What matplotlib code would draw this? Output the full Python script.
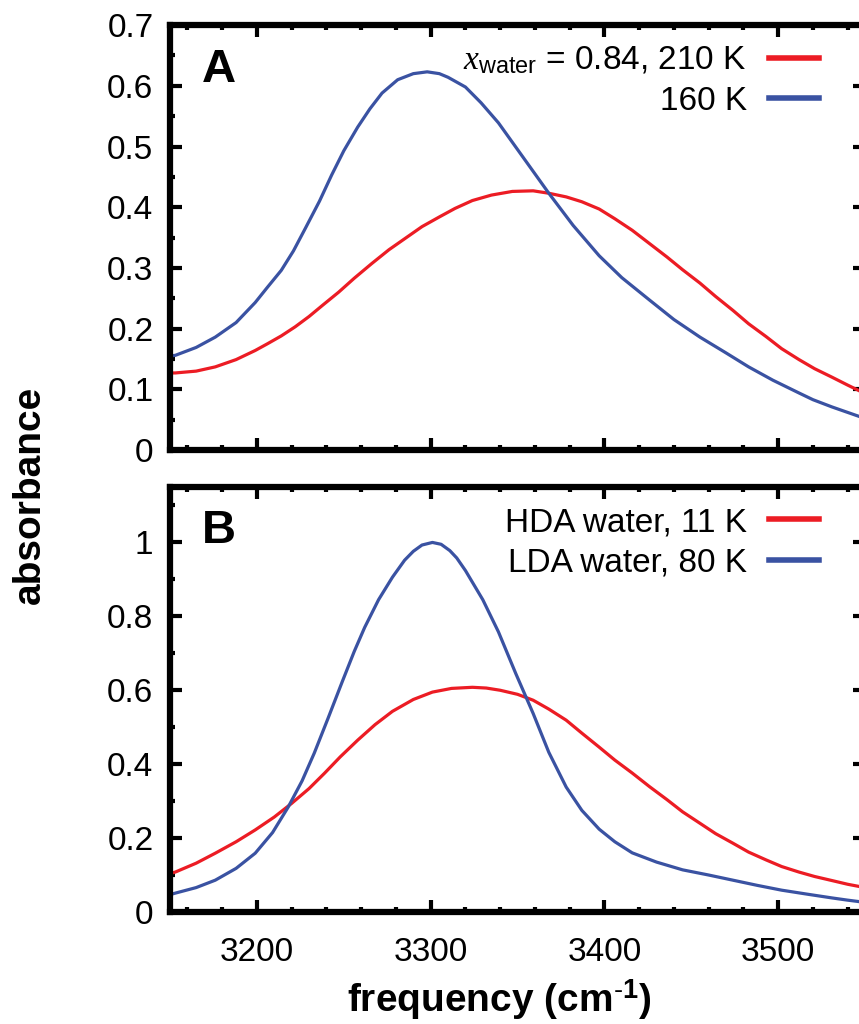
import matplotlib
matplotlib.use("Agg")
import matplotlib.pyplot as plt
from matplotlib.ticker import MultipleLocator, FuncFormatter

plt.rcParams['font.family'] = ['Liberation Sans', 'DejaVu Sans']
plt.rcParams['mathtext.fontset'] = 'custom'
plt.rcParams['mathtext.rm'] = 'Liberation Sans'
plt.rcParams['mathtext.bf'] = 'Liberation Sans:bold'
plt.rcParams['mathtext.it'] = 'Liberation Serif:italic'

# panel A, x_water = 0.84
freq_a_hot = [3150, 3153, 3165, 3176, 3188, 3199, 3206, 3214, 3222, 3230, 3238, 3247, 3256, 3266,
              3276, 3286, 3295, 3305, 3314, 3324, 3335, 3347, 3359, 3368, 3378, 3387, 3397, 3406,
              3416, 3426, 3436, 3445, 3455, 3464, 3474, 3483, 3493, 3502, 3512, 3521, 3531, 3540, 3550]
abs_a_hot = [0.127, 0.127, 0.130, 0.137, 0.149, 0.164, 0.175, 0.188, 0.203, 0.220, 0.239, 0.260, 0.283, 0.307,
             0.330, 0.350, 0.368, 0.384, 0.398, 0.411, 0.420, 0.426, 0.427, 0.423, 0.417, 0.409, 0.397, 0.381,
             0.362, 0.340, 0.318, 0.297, 0.275, 0.253, 0.230, 0.208, 0.187, 0.167, 0.149, 0.134, 0.120, 0.107, 0.093]
freq_a_cold = [3150, 3153, 3165, 3176, 3188, 3199, 3206, 3214, 3221, 3228, 3236, 3243, 3250, 3258, 3265,
               3272, 3281, 3290, 3298, 3305, 3310, 3320, 3329, 3339, 3350, 3360, 3368, 3382, 3397,
               3410, 3426, 3440, 3455, 3470, 3483, 3497, 3512, 3520, 3531, 3540, 3550]
abs_a_cold = [0.155, 0.156, 0.169, 0.186, 0.210, 0.243, 0.268, 0.296, 0.328, 0.366, 0.410, 0.453, 0.493, 0.532, 0.562,
              0.588, 0.610, 0.620, 0.623, 0.620, 0.614, 0.598, 0.572, 0.539, 0.495, 0.455, 0.423, 0.370, 0.320,
              0.284, 0.247, 0.215, 0.186, 0.160, 0.137, 0.115, 0.094, 0.083, 0.071, 0.062, 0.052]

# panel B, amorphous ices
freq_b_hda = [3150, 3153, 3165, 3176, 3188, 3199, 3210, 3220, 3230, 3239, 3248, 3258, 3268, 3278, 3290,
              3301, 3312, 3324, 3332, 3340, 3350, 3359, 3368, 3378, 3387, 3397, 3406, 3416, 3426,
              3436, 3445, 3455, 3464, 3474, 3483, 3493, 3502, 3512, 3521, 3531, 3540, 3550]
abs_b_hda = [0.104, 0.108, 0.132, 0.159, 0.190, 0.222, 0.257, 0.294, 0.334, 0.376, 0.420, 0.465, 0.507, 0.543, 0.575,
             0.595, 0.605, 0.608, 0.606, 0.600, 0.589, 0.573, 0.549, 0.519, 0.484, 0.446, 0.411, 0.376, 0.339,
             0.304, 0.271, 0.240, 0.212, 0.186, 0.162, 0.141, 0.123, 0.108, 0.096, 0.085, 0.075, 0.066]
freq_b_lda = [3150, 3153, 3165, 3176, 3188, 3199, 3209, 3218, 3226, 3233, 3241, 3249, 3256, 3262, 3270,
              3278, 3285, 3290, 3295, 3301, 3306, 3311, 3315, 3320, 3330, 3339, 3349, 3359, 3368, 3378,
              3387, 3397, 3406, 3416, 3430, 3445, 3460, 3474, 3488, 3502, 3517, 3531, 3540, 3550]
abs_b_lda = [0.047, 0.051, 0.066, 0.086, 0.118, 0.159, 0.215, 0.284, 0.355, 0.430, 0.525, 0.622, 0.705, 0.770, 0.845,
             0.906, 0.952, 0.976, 0.993, 1.000, 0.995, 0.978, 0.958, 0.924, 0.845, 0.758, 0.645, 0.537, 0.432, 0.338,
             0.275, 0.224, 0.190, 0.160, 0.135, 0.114, 0.100, 0.086, 0.072, 0.059, 0.048, 0.038, 0.032, 0.026]

labels_a = ['$x_{\\mathrm{water}}$ = 0.84, 210 K', '160 K']
labels_b = ['HDA water, 11 K', 'LDA water, 80 K']

red = '#ec1c24'
blue = '#3a52a2'

fig = plt.figure(figsize=(8.59, 10.24), dpi=100)
ax_a = fig.add_axes([0.198, 0.5605, 0.809, 0.415])
ax_b = fig.add_axes([0.198, 0.1094, 0.809, 0.415])

ax_a.plot(freq_a_hot, abs_a_hot, color=red, lw=2.3, label=labels_a[0])
ax_a.plot(freq_a_cold, abs_a_cold, color=blue, lw=2.3, label=labels_a[1])
ax_b.plot(freq_b_hda, abs_b_hda, color=red, lw=2.3, label=labels_b[0])
ax_b.plot(freq_b_lda, abs_b_lda, color=blue, lw=2.3, label=labels_b[1])

fmt = FuncFormatter(lambda v, p: '%g' % round(v, 2))
for ax in (ax_a, ax_b):
    ax.set_xlim(3150, 3550)
    ax.xaxis.set_major_locator(MultipleLocator(100))
    ax.xaxis.set_minor_locator(MultipleLocator(20))
    ax.yaxis.set_major_formatter(fmt)
    ax.tick_params(which='both', direction='in', top=True, right=True, width=3, labelsize=24)
    ax.tick_params(which='major', length=8.5)
    ax.tick_params(which='minor', length=3.5)
    ax.tick_params(axis='x', pad=18)
    ax.tick_params(axis='y', pad=12)
    for s in ax.spines.values():
        s.set_linewidth(4.5)
    leg = ax.legend(loc='upper right', frameon=False, markerfirst=False, fontsize=24,
                    handlelength=1.5, handletextpad=0.65, labelspacing=0.28,
                    borderaxespad=0.2, bbox_to_anchor=(0.962, 1.0))
    for ln in leg.get_lines():
        ln.set_linewidth(4)

ax_a.set_ylim(0, 0.7)
ax_a.yaxis.set_major_locator(MultipleLocator(0.1))
ax_a.yaxis.set_minor_locator(MultipleLocator(0.05))
ax_a.tick_params(axis='x', labelbottom=False)

ax_b.set_ylim(0, 1.15)
ax_b.yaxis.set_major_locator(MultipleLocator(0.2))
ax_b.yaxis.set_minor_locator(MultipleLocator(0.1))

ax_a.text(0.046, 0.866, 'A', transform=ax_a.transAxes, fontsize=34, fontweight='bold',
          va='baseline', ha='left')
ax_b.text(0.046, 0.868, 'B', transform=ax_b.transAxes, fontsize=34, fontweight='bold',
          va='baseline', ha='left')

fig.text(0.035, 1 - 495 / 1024, 'absorbance', rotation=90, fontsize=28, fontweight='bold',
         ha='center', va='center')
fig.text(0.581, 0.024, 'frequency (cm$^{\\mathbf{\\text{-}1}}$)', fontsize=28, fontweight='bold',
         ha='center', va='center')

fig.savefig('out.png', dpi=100)
